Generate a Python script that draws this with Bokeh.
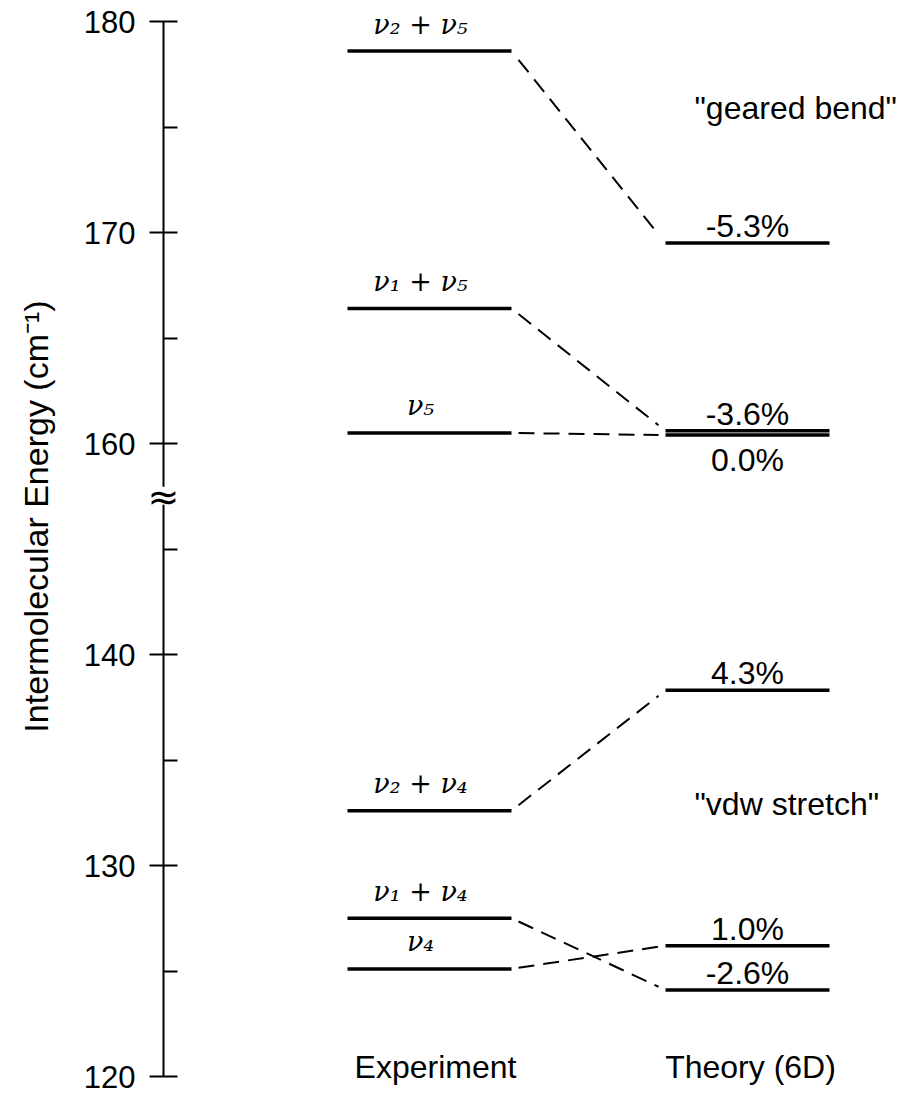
import math
from bokeh.plotting import figure
from bokeh.models import Range1d, FixedTicker, ColumnDataSource
from bokeh.core.properties import value
from bokeh.embed import file_html
from bokeh.resources import INLINE

# ---------------- data ----------------
exp_labels = ["ν₂ + ν₅", "ν₁ + ν₅", "ν₅", "ν₂ + ν₄", "ν₁ + ν₄", "ν₄"]
exp_energy = [178.6, 166.4, 160.5, 132.6, 127.5, 125.1]
theory_energy = [169.5, 160.6, 160.4, 138.3, 124.1, 126.2]   # paired with exp_labels
theory_labels = ["-5.3%", "-3.6%", "0.0%", "4.3%", "-2.6%", "1.0%"]
theory_label_side = ["above", "above", "below", "above", "above", "above"]

major_ticks = [120, 130, 140, 160, 170, 180]
minor_ticks = [125, 135, 145, 165, 175]
axis_title = "Intermolecular Energy (cm⁻¹)"
column_titles = ["Experiment", "Theory (6D)"]
mode_names = ['"geared bend"', '"vdw stretch"']
mode_name_energy = [175.9, 132.9]

# axis break: values above BREAK are drawn BREAK_SHIFT lower
BREAK = 150
BREAK_SHIFT = 10


def disp(v):
    return v - BREAK_SHIFT if v > BREAK else v


# ---------------- layout constants ----------------
W, H = 909, 1093
TOP_PX, BOTTOM_PX = 21, 17         # space above 180 tick / below 120 tick
AXIS_LO, AXIS_HI = 120, 170         # display units
PX_PER_UNIT = (H - TOP_PX - BOTTOM_PX) / (AXIS_HI - AXIS_LO)
AXIS_X = 163
EXP_X0, EXP_X1 = 347, 511
THE_X0, THE_X1 = 665, 829
EXP_LABEL_X = 420
GAP = 7
BREAK_MARK_Y = 147.48               # display units
BREAK_GAP = (147.1, 147.95)         # display units
AXIS_TITLE_X, AXIS_TITLE_Y = 35, 146.54
MODE_X = 694
SANS = "Liberation Sans"
SERIF = "DejaVu Serif"

y_start = AXIS_LO - BOTTOM_PX / PX_PER_UNIT
y_end = AXIS_HI + TOP_PX / PX_PER_UNIT

p = figure(width=W, height=H,
           x_range=Range1d(0, W), y_range=Range1d(y_start, y_end),
           x_axis_location=None, toolbar_location=None, output_backend="svg",
           min_border_left=0, min_border_right=0, min_border_top=0,
           min_border_bottom=0)
p.outline_line_color = None
p.grid.visible = False
p.background_fill_color = "white"
p.border_fill_color = "white"

ax = p.yaxis[0]
ax.fixed_location = AXIS_X
ax.bounds = (AXIS_LO, AXIS_HI)
ax.ticker = FixedTicker(ticks=[disp(t) for t in major_ticks],
                        minor_ticks=[disp(t) for t in minor_ticks])
ax.major_label_overrides = {disp(t): str(t) for t in major_ticks}
ax.major_tick_in = 14
ax.major_tick_out = 14
ax.minor_tick_in = 14
ax.minor_tick_out = 0
ax.axis_line_width = 2
ax.major_tick_line_width = 2
ax.minor_tick_line_width = 2
ax.axis_line_color = "black"
ax.major_tick_line_color = "black"
ax.minor_tick_line_color = "black"
ax.major_label_standoff = 14
ax.major_label_text_font = SANS
ax.major_label_text_font_size = "31px"
ax.major_label_text_color = "black"

# axis title (rotated text)
p.text(x=[AXIS_TITLE_X], y=[AXIS_TITLE_Y], text=[axis_title], angle=math.pi / 2,
       text_font=value(SANS), text_font_size="34px", text_align="center",
       text_baseline="middle", text_color="black")

# ---------------- levels ----------------
exp_d = [disp(v) for v in exp_energy]
the_d = [disp(v) for v in theory_energy]
n = len(exp_d)

p.segment(x0=[EXP_X0] * n, x1=[EXP_X1] * n, y0=exp_d, y1=exp_d,
          line_width=3.5, line_color="black")
p.segment(x0=[THE_X0] * n, x1=[THE_X1] * n, y0=the_d, y1=the_d,
          line_width=3.5, line_color="black")

# dashed correlation lines
span = THE_X0 - EXP_X1
xs, ys = [], []
for e, t in zip(exp_d, the_d):
    xs.append([EXP_X1 + GAP, THE_X0 - GAP])
    ys.append([e + (t - e) * GAP / span, t - (t - e) * GAP / span])
p.multi_line(xs=xs, ys=ys, line_dash="16 9", line_width=2, line_color="black")

# experiment labels
src_e = ColumnDataSource(dict(x=[EXP_LABEL_X] * n, y=exp_d, t=exp_labels))
p.text(x="x", y="y", text="t", source=src_e, text_font=value(SERIF),
       text_font_style="italic", text_font_size="27px", text_align="center",
       text_baseline="middle", y_offset=-27, text_color="black")

# theory labels
ab = [i for i in range(n) if theory_label_side[i] == "above"]
be = [i for i in range(n) if theory_label_side[i] == "below"]
tc = (THE_X0 + THE_X1) / 2
src_ta = ColumnDataSource(dict(x=[tc] * len(ab), y=[the_d[i] for i in ab],
                               t=[theory_labels[i] for i in ab]))
src_tb = ColumnDataSource(dict(x=[tc] * len(be), y=[the_d[i] for i in be],
                               t=[theory_labels[i] for i in be]))
for src, off in ((src_ta, -17), (src_tb, 25)):
    p.text(x="x", y="y", text="t", source=src, text_font=value(SANS),
           text_font_size="32px", text_align="center", text_baseline="middle",
           y_offset=off, text_color="black")

# column titles
src_c = ColumnDataSource(dict(x=[435, tc + 3], y=[AXIS_LO, AXIS_LO], t=column_titles))
p.text(x="x", y="y", text="t", source=src_c, text_font=value(SANS),
       text_font_size="32px", text_align="center", text_baseline="middle",
       y_offset=-10, text_color="black")

# mode names
src_m = ColumnDataSource(dict(x=[MODE_X, MODE_X], y=[disp(v) for v in mode_name_energy],
                              t=mode_names))
p.text(x="x", y="y", text="t", source=src_m, text_font=value(SANS),
       text_font_size="32px", text_align="left", text_baseline="middle",
       text_color="black")

# axis break mark
gap_r = p.quad(left=[AXIS_X - 6], right=[AXIS_X + 6], bottom=[BREAK_GAP[0]],
               top=[BREAK_GAP[1]], fill_color="white", line_color=None)
gap_r.level = "overlay"
brk = p.text(x=[AXIS_X], y=[BREAK_MARK_Y], text=["≈"], text_font=value("DejaVu Sans"),
             text_font_size="38px", text_align="center", text_baseline="middle",
             text_color="black")
brk.level = "overlay"

open("out.html", "w").write(file_html(p, INLINE))
